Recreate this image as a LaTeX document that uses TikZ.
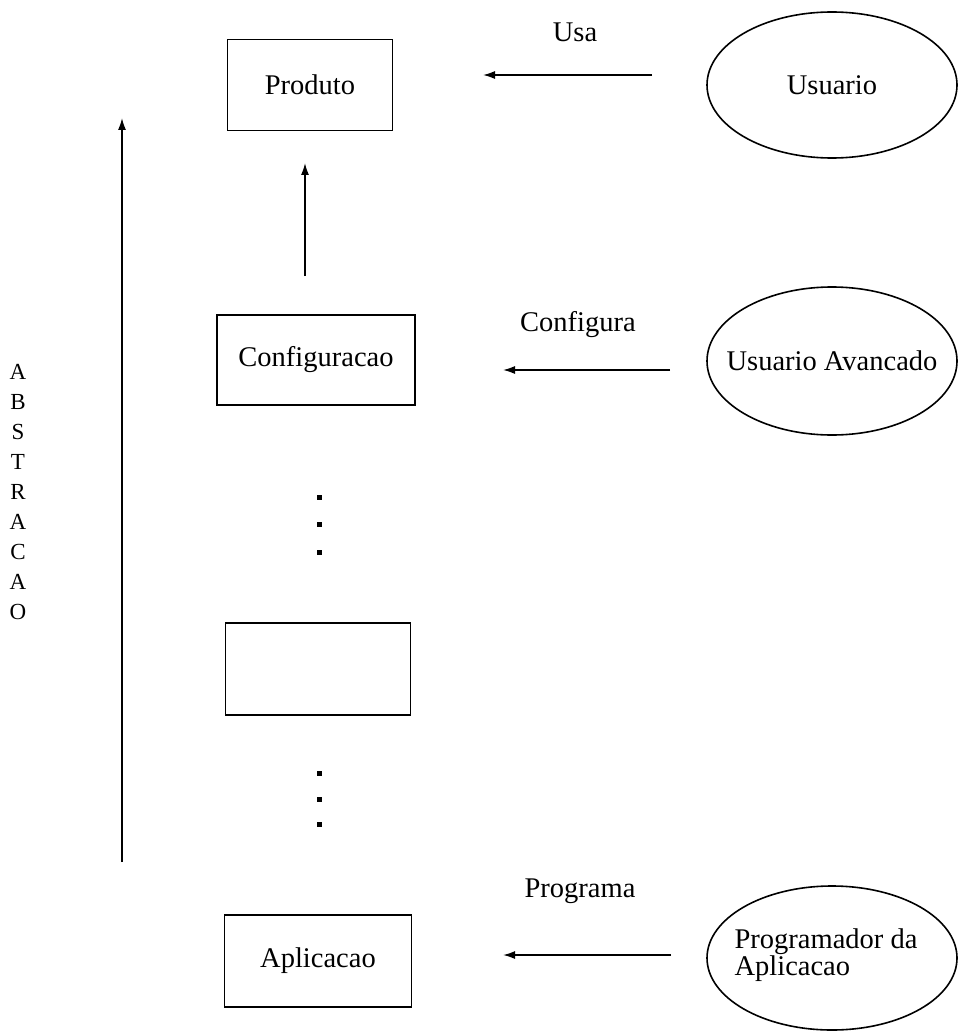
\documentclass[tikz,border=0pt]{standalone}
\usepackage{fontspec}
\setmainfont{Liberation Serif}
\usetikzlibrary{arrows.meta}
\begin{document}
\begin{tikzpicture}[x=1pt,y=-1pt,
  every node/.style={font=\fontsize{28.5}{27}\selectfont},
  layer/.style={draw,line width=1.7pt,rectangle,inner sep=0pt},
  rim/.style={line width=1.6pt},
  flow/.style={line width=1.6pt,-{Latex[length=12pt,width=8pt]}},
  dot/.style={fill,rectangle,inner sep=0pt,minimum size=5pt}]
\useasboundingbox (0,0) rectangle (958,1032);

% layers of the system
\node[layer,minimum width=165pt,minimum height=91pt] (produto) at (310,85) {Produto};
\node[layer,minimum width=198pt,minimum height=90pt] (config) at (316,360) {Configuracao};
\node[layer,minimum width=185pt,minimum height=92pt] (middle) at (318,669) {};
\node[layer,minimum width=187pt,minimum height=92pt] (aplic) at (318,961) {Aplicacao};

% actors: text nodes with an ellipse drawn round each
\node (usuario) at (832,85) {Usuario};
\draw[rim] (usuario.center) ellipse [x radius=125pt, y radius=73pt];
\node (avancado) at (832,361) {Usuario Avancado};
\draw[rim] (avancado.center) ellipse [x radius=125pt, y radius=74pt];
\node[align=left] (program) at (826,955) {Programador da\\Aplicacao};
\draw[rim] (832,958) ellipse [x radius=125pt, y radius=72pt];

% relation labels
\node (usa) at (575,32) {Usa};
\node (configura) at (578,325) {Configura};
\node (programa) at (580,891) {Programa};

% arrows between actors and layers
\coordinate (usaS) at (652,75);
\coordinate (usaE) at (483,75);
\draw[flow] (usaS) -- (usaE);
\coordinate (cfgS) at (670,370);
\coordinate (cfgE) at (503,370);
\draw[flow] (cfgS) -- (cfgE);
\coordinate (prgS) at (671,955);
\coordinate (prgE) at (503,955);
\draw[flow] (prgS) -- (prgE);

% configuration feeds the product
\coordinate (upS) at (305,276);
\coordinate (upE) at (305,163);
\draw[flow] (upS) -- (upE);

% elided layers
\node[dot] (d1) at (319,497) {};
\node[dot] (d2) at (319,524) {};
\node[dot] (d3) at (319,552) {};
\node[dot] (d4) at (319,773) {};
\node[dot] (d5) at (319,799) {};
\node[dot] (d6) at (319,824) {};

% abstraction axis
\coordinate (axS) at (122,862);
\coordinate (axE) at (122,118);
\draw[flow] (axS) -- (axE);
\node[font=\fontsize{23}{30}\selectfont,align=center,anchor=north] (abs) at (18,361)
  {A\\B\\S\\T\\R\\A\\C\\A\\O};
\end{tikzpicture}
\end{document}
